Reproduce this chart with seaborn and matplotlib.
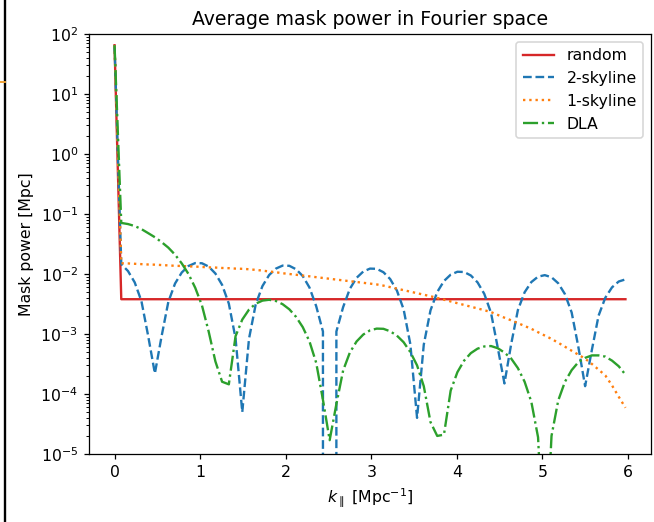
import numpy as np
import pandas as pd
import seaborn as sns
import matplotlib.pyplot as plt
from matplotlib.lines import Line2D

# k grid (77 rfft modes, 0 .. ~5.97 Mpc^-1)
k_par = np.linspace(0, 5.97, 77)

random_pw = [65.0] + [3.8e-3] * 76

skyline2_pw = [
    65.0, 1.46e-2, 1.12e-2, 7.24e-3, 3.53e-3, 9.3e-4, 2.2e-4, 9.2e-4, 3.43e-3, 6.94e-3,
    1.06e-2, 1.36e-2, 1.52e-2, 1.51e-2, 1.33e-2, 1.02e-2, 6.59e-3, 3.21e-3, 8.46e-4, 5.0e-5,
    8.33e-4, 3.12e-3, 6.29e-3, 9.62e-3, 1.23e-2, 1.38e-2, 1.37e-2, 1.20e-2, 9.24e-3, 5.94e-3,
    2.90e-3, 1.1e-3, 0.0, 1.1e-3, 2.80e-3, 5.65e-3, 8.62e-3, 1.10e-2, 1.23e-2, 1.22e-2,
    1.07e-2, 8.24e-3, 5.30e-3, 2.58e-3, 6.78e-4, 4.0e-5, 6.65e-4, 2.48e-3, 5.00e-3, 7.63e-3,
    9.75e-3, 1.09e-2, 1.08e-2, 9.45e-3, 7.25e-3, 4.66e-3, 2.26e-3, 5.94e-4, 1.5e-4, 6.79e-4,
    2.51e-3, 4.96e-3, 7.34e-3, 9.03e-3, 9.57e-3, 8.83e-3, 7.01e-3, 4.62e-3, 2.28e-3, 6.03e-4,
    1.35e-4, 5.4e-4, 2.02e-3, 4.02e-3, 5.99e-3, 7.50e-3, 8.13e-3,
]

skyline1_pw = [
    65.0, 1.51e-2, 1.50e-2, 1.48e-2, 1.46e-2, 1.44e-2, 1.43e-2, 1.41e-2, 1.39e-2, 1.37e-2,
    1.36e-2, 1.34e-2, 1.33e-2, 1.31e-2, 1.29e-2, 1.28e-2, 1.26e-2, 1.25e-2, 1.23e-2, 1.22e-2,
    1.20e-2, 1.17e-2, 1.14e-2, 1.10e-2, 1.07e-2, 1.03e-2, 1.00e-2, 9.71e-3, 9.42e-3, 9.14e-3,
    8.85e-3, 8.59e-3, 8.32e-3, 8.07e-3, 7.82e-3, 7.59e-3, 7.36e-3, 7.13e-3, 6.92e-3, 6.70e-3,
    6.40e-3, 6.04e-3, 5.70e-3, 5.38e-3, 5.07e-3, 4.79e-3, 4.52e-3, 4.26e-3, 3.99e-3, 3.73e-3,
    3.49e-3, 3.26e-3, 3.05e-3, 2.85e-3, 2.67e-3, 2.49e-3, 2.32e-3, 2.08e-3, 1.87e-3, 1.69e-3,
    1.52e-3, 1.36e-3, 1.22e-3, 1.07e-3, 9.42e-4, 8.28e-4, 7.15e-4, 6.14e-4, 5.26e-4, 4.52e-4,
    3.88e-4, 3.17e-4, 2.55e-4, 2.04e-4, 1.39e-4, 9.0e-5, 5.9e-5,
]

dla_pw = [
    65.0, 7.1e-2, 6.8e-2, 6.3e-2, 5.6e-2, 4.8e-2, 4.1e-2, 3.4e-2, 2.75e-2, 2.1e-2,
    1.5e-2, 1.0e-2, 5.9e-3, 3.0e-3, 1.1e-3, 3.5e-4, 1.6e-4, 1.45e-4, 9.2e-4, 1.74e-3,
    2.55e-3, 3.2e-3, 3.6e-3, 3.72e-3, 3.55e-3, 3.14e-3, 2.58e-3, 1.93e-3, 1.30e-3, 7.5e-4,
    3.3e-4, 8.0e-5, 1.7e-5, 6.8e-5, 2.46e-4, 4.9e-4, 7.5e-4, 9.8e-4, 1.15e-3, 1.23e-3,
    1.22e-3, 1.11e-3, 9.4e-4, 7.3e-4, 5.0e-4, 3.0e-4, 1.35e-4, 3.4e-5, 2.0e-5, 2.1e-5,
    1.14e-4, 2.31e-4, 3.6e-4, 4.8e-4, 5.7e-4, 6.2e-4, 6.3e-4, 5.8e-4, 4.9e-4, 3.9e-4,
    2.7e-4, 1.6e-4, 7.4e-5, 1.9e-5, 1e-7, 2.0e-5, 7.8e-5, 1.6e-4, 2.5e-4, 3.4e-4,
    4.0e-4, 4.4e-4, 4.4e-4, 4.2e-4, 3.6e-4, 2.9e-4, 2.1e-4,
]

labels = ['random', '2-skyline', '1-skyline', 'DLA']
colors = ['#d62728', '#1f77b4', '#ff7f0e', '#2ca02c']
styles = ['-', '--', ':', '-.']

df = pd.DataFrame({'k': k_par, 'random': random_pw, '2-skyline': skyline2_pw,
                   '1-skyline': skyline1_pw, 'DLA': dla_pw})

# reference looks like a slightly upscaled default figure -> dpi 113
fig = plt.figure(figsize=(654 / 113, 522 / 113), dpi=113)
ax = fig.add_axes([89 / 654, 68 / 522, 562 / 654, 420 / 522])

for lab, c, ls in zip(labels, colors, styles):
    sns.lineplot(data=df, x='k', y=lab, color=c, linestyle=ls, linewidth=1.5,
                 label=lab, ax=ax)

ax.set_yscale('log')
ax.set_ylim(1e-5, 1e2)
ax.set_xlabel(r'$k_\parallel$ [Mpc$^{-1}$]')
ax.set_ylabel('Mask power [Mpc]')
ax.set_title('Average mask power in Fourier space')
ax.legend(loc='upper right')

# screenshot edge marks
fig.add_artist(Line2D([5.5 / 654, 5.5 / 654], [0, 1], color='black', lw=1.5,
                      transform=fig.transFigure))
fig.add_artist(Line2D([0, 5 / 654], [1 - 82 / 522, 1 - 82 / 522], color='#f0a030',
                      lw=1.2, transform=fig.transFigure))

plt.savefig('out.png', dpi=113)
